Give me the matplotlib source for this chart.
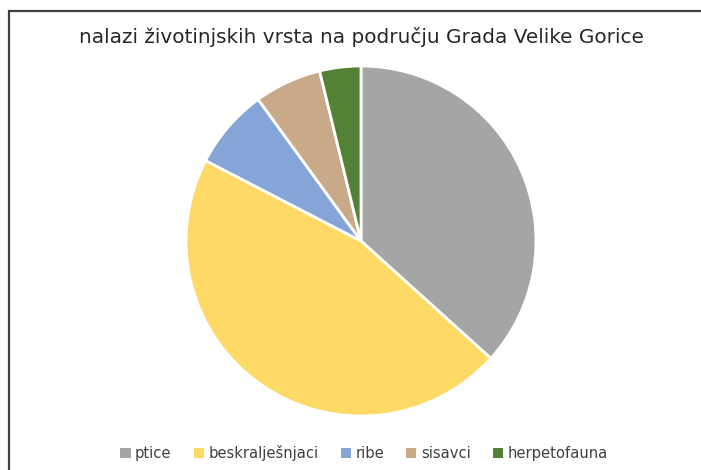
import matplotlib
matplotlib.use("Agg")
import matplotlib.pyplot as plt
from matplotlib.patches import Rectangle, Patch

categories = ["ptice", "beskralješnjaci", "ribe", "sisavci", "herpetofauna"]
values = [36.7, 45.9, 7.4, 6.2, 3.8]
colors = ["#A5A5A5", "#FFD966", "#85A5D8", "#C9AA88", "#538135"]
title = "nalazi životinjskih vrsta na području Grada Velike Gorice"

W, H = 701, 470
fig = plt.figure(figsize=(W/100, H/100), dpi=100)

# chart border (top & left visible)
fig.add_artist(Rectangle((9/W, -0.1), 1.2, (470-11)/H + 0.1, transform=fig.transFigure,
                         fill=False, edgecolor="#404040", linewidth=1.6))

cx, cy, r = 361, 241, 175
ax = fig.add_axes([(cx-r)/W, (H-cy-r)/H, 2*r/W, 2*r/H])
ax.pie(values, colors=colors, startangle=90, counterclock=False, radius=1,
       wedgeprops=dict(edgecolor="white", linewidth=2))
ax.set_xlim(-1, 1)
ax.set_ylim(-1, 1)
ax.set_aspect("equal")
ax.axis("off")

fig.text(361/W, 1-37/H, title, ha="center", va="center", fontsize=14.4,
         color="#262626", family="DejaVu Sans")

handles = [Patch(facecolor=c, edgecolor="none") for c in colors]
fig.legend(handles, categories, loc="center", bbox_to_anchor=(364/W, 1-453/H),
           ncol=5, frameon=False, fontsize=10.6, handlelength=0.7, handleheight=0.7,
           handletextpad=0.3, columnspacing=1.5, labelcolor="#404040")

fig.savefig("out.png", dpi=100)
